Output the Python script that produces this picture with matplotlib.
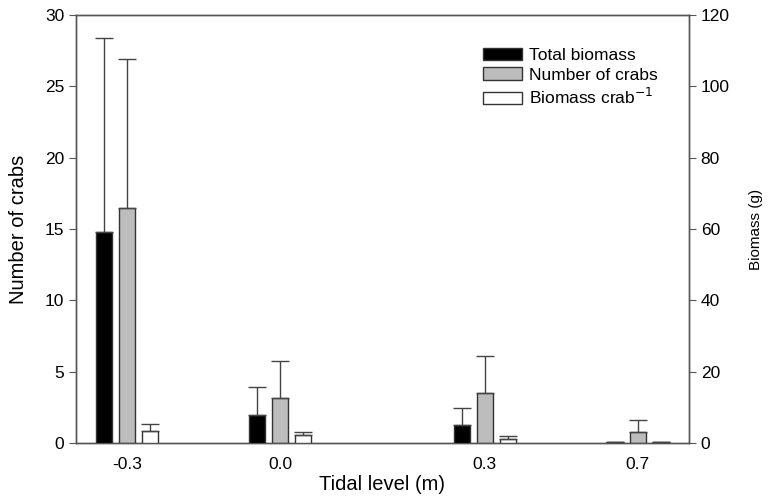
import numpy as np
import matplotlib.pyplot as plt
from matplotlib.patches import Patch

plt.rcParams['font.family'] = ['Liberation Sans', 'DejaVu Sans']

# tidal levels (group positions on the x axis) and their labels
level_pos = [-0.3, 0.0, 0.4, 0.7]
level_labels = ['-0.3', '0.0', '0.3', '0.7']

# number of crabs (left axis), mean and upper SE
crabs = [16.5, 3.2, 3.5, 0.8]
crabs_err = [10.4, 2.55, 2.6, 0.8]

# total biomass (g, right axis)
biomass = [59.1, 7.85, 5.05, 0.3]
biomass_err = [54.3, 7.95, 4.75, 0.0]

# biomass per crab (g, right axis)
per_crab = [3.56, 2.44, 1.3, 0.3]
per_crab_err = [1.84, 0.73, 0.6, 0.1]

x = np.array(level_pos)
w = 0.031
step = 0.045
edge = '#333333'
errkw = dict(ecolor='#444444', elinewidth=1, capsize=6.5, capthick=1)

fig = plt.figure(figsize=(7.68, 4.98), dpi=100)
ax = fig.add_axes([0.099, 0.110, 0.798, 0.860])
ax2 = ax.twinx()

ax.bar(x, crabs, w, color='#bdbdbd', edgecolor=edge, linewidth=1,
       yerr=[np.zeros(4), crabs_err], error_kw=errkw, zorder=3)
ax2.bar(x - step, biomass, w, color='black', edgecolor=edge, linewidth=1,
        yerr=[np.zeros(4), biomass_err], error_kw=errkw, zorder=3)
ax2.bar(x + step, per_crab, w, color='white', edgecolor=edge, linewidth=1,
        yerr=[np.zeros(4), per_crab_err], error_kw=errkw, zorder=3)

ax.set_xlim(-0.4, 0.8)
ax.set_ylim(0, 30)
ax2.set_ylim(0, 120)
ax.set_xticks(x)
ax.set_xticklabels(level_labels)
ax.tick_params(axis='x', length=0, labelsize=12.5, pad=10)
ax.tick_params(axis='y', length=5, labelsize=12.5, color='#555555')
ax2.tick_params(axis='y', length=5, labelsize=12.5, color='#555555')
ax.set_yticks(np.arange(0, 31, 5))
ax2.set_yticks(np.arange(0, 121, 20))

for a in (ax, ax2):
    for s in a.spines.values():
        s.set_color('#555555')
        s.set_linewidth(1)

ax.set_ylabel('Number of crabs', fontsize=14.5, labelpad=12)
ax2.set_ylabel('Biomass (g)', fontsize=11, labelpad=14)
ax.set_xlabel('Tidal level (m)', fontsize=14.5, labelpad=2)

handles = [Patch(facecolor='black', edgecolor=edge),
           Patch(facecolor='#bdbdbd', edgecolor=edge),
           Patch(facecolor='white', edgecolor=edge)]
ax2.legend(handles, ['Total biomass', 'Number of crabs', 'Biomass crab$^{-1}$'],
           loc='upper left', bbox_to_anchor=(0.652, 0.94), frameon=False,
           fontsize=12.5, handlelength=2.25, handleheight=0.75,
           labelspacing=0.25, handletextpad=0.4, borderaxespad=0)

fig.savefig('out.png', dpi=100)
